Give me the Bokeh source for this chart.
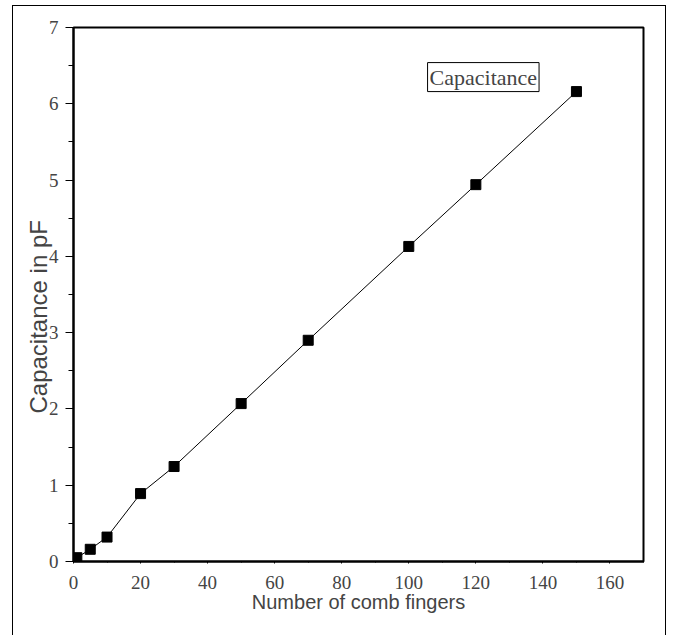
from bokeh.plotting import figure
from bokeh.models import Range1d, SingleIntervalTicker, Label, Title
from bokeh.embed import file_html
from bokeh.resources import INLINE

# Data
fingers = [1, 5, 10, 20, 30, 50, 70, 100, 120, 150]
capacitance = [0.05, 0.16, 0.32, 0.89, 1.245, 2.07, 2.90, 4.13, 4.94, 6.16]
series_name = "Capacitance"
x_title = "Number of comb fingers"
y_title = "Capacitance in pF"

p = figure(width=654, height=630, output_backend="svg", toolbar_location=None,
           x_range=Range1d(0, 170), y_range=Range1d(0, 7),
           min_border_left=60, min_border_right=24, min_border_top=21, min_border_bottom=75)
p.styles = {"border-left": "1px solid black", "border-top": "1px solid black",
            "border-right": "1px solid black", "margin-left": "12px", "margin-top": "5px"}

p.xgrid.visible = False
p.ygrid.visible = False
p.outline_line_color = "black"
p.outline_line_width = 2

serif = "Liberation Serif"
sans = "Liberation Sans"

xa = p.xaxis[0]
xa.ticker = SingleIntervalTicker(interval=20, num_minor_ticks=2)
xa.axis_label = x_title
xa.axis_label_text_font = sans
xa.axis_label_text_font_size = "20px"
xa.axis_label_text_font_style = "normal"
xa.axis_label_standoff = -1
xa.major_label_text_font = serif
xa.major_label_text_font_size = "19px"
xa.major_label_standoff = 12
xa.axis_line_width = 2
xa.major_tick_out = 2
xa.major_tick_in = 0
xa.minor_tick_out = 1
xa.minor_tick_in = 0

ya = p.yaxis[0]
ya.ticker = SingleIntervalTicker(interval=1, num_minor_ticks=2)
ya.major_label_text_font = serif
ya.major_label_text_font_size = "19px"
ya.major_label_standoff = 7
ya.axis_line_width = 2
ya.major_tick_out = 8
ya.major_tick_in = 0
ya.minor_tick_out = 5
ya.minor_tick_in = 0

# y-axis title as a side title (allows shifting it along the axis)
ytitle = Title(text=y_title, align="left", offset=148, standoff=-12,
               text_font=sans, text_font_size="24px", text_font_style="normal")
p.add_layout(ytitle, "left")

p.line(fingers, capacitance, line_color="black", line_width=1)
p.scatter(fingers, capacitance, marker="square", size=10, fill_color="black", line_color="black")

lab = Label(x=105.6, y=6.35, text=series_name, text_font=serif, text_font_size="22px",
            text_align="left", text_baseline="middle",
            border_line_color="black", border_line_width=1,
            background_fill_color="white", padding=2)
p.add_layout(lab)

open("out.html", "w").write(file_html(p, INLINE))
